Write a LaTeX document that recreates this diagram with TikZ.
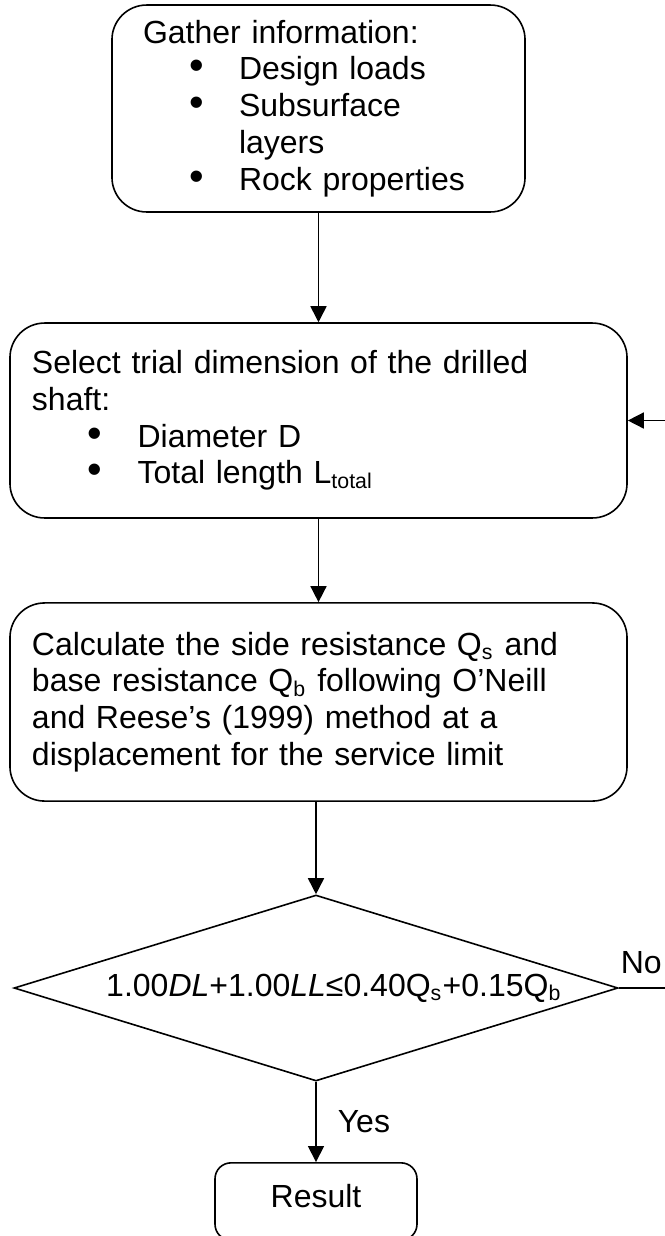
\documentclass[tikz,border=0pt]{standalone}
\usepackage{fontspec}
\setmainfont{Liberation Sans}
\usetikzlibrary{shapes.geometric,arrows.meta}
\setlength{\parindent}{0pt}
% bullet line: #1 = offset of the bullet centre from the text edge
\newcommand{\bitem}[2][20pt]{\par\hangindent=\dimexpr#1+16pt\relax\hangafter=1\noindent\hspace*{#1}\makebox[0pt]{\scalebox{1.3}{\textbullet}}\hspace*{16pt}#2}

\begin{document}
\begin{tikzpicture}[x=0.375pt, y=-0.375pt, line width=0.6pt,
  font=\fontsize{12pt}{13.8pt}\selectfont,
  box/.style={draw, rounded corners=13pt, align=left, inner sep=0pt},
  flow/.style={-{Triangle[length=6pt,width=6pt]}}]
\useasboundingbox (0,0) rectangle (665,1236);

% Gather information
\node[box, minimum width=154.9pt, minimum height=77.6pt, text width=131.6pt] (gather) at (318.5,108.5)
  {Gather information:
   \bitem{Design loads}
   \bitem{Subsurface\newline layers}
   \bitem{Rock properties}};

% Trial dimension
\node[box, minimum width=231.4pt, minimum height=73.1pt, text width=214.9pt] (select) at (318.5,420.5)
  {Select trial dimension of the drilled\\ shaft:
   \bitem[23.6pt]{Diameter D}
   \bitem[23.6pt]{Total length L\textsubscript{total}}};

% Resistances
\node[box, minimum width=231.4pt, minimum height=74.3pt, text width=214.9pt] (calc) at (318.5,702)
  {Calculate the side resistance Q\textsubscript{s} and\\
   base resistance Q\textsubscript{b} following O’Neill\\
   and Reese’s (1999) method at a\\
   displacement for the service limit};

% Check
\node[draw, diamond, aspect=3.25, minimum width=226.5pt, minimum height=69.75pt, inner sep=0pt] (check) at (316,988)
  {\hspace*{13.5pt}1.00\textit{DL}+1.00\textit{LL}≤0.40Q\textsubscript{s}+0.15Q\textsubscript{b}};

% Result
\node[draw, rounded corners=6pt, minimum width=75.75pt, minimum height=29pt, inner sep=0pt, text depth=4pt] (result) at (316,1201.5) {Result};

% connectors
\draw[flow] (gather) -- (select);
\draw[flow] (select) -- (calc);
\draw[flow] (check.north |- calc.south) -- (check.north);
\draw[flow] (check.south) -- (result.north);
\node[anchor=base west, inner sep=0pt] (yes) at (337,1132) {Yes};

% back to the trial dimension
\coordinate (noend) at (665,988);
\coordinate (loopin) at (665,420.5);
\draw (check.east) -- (noend);
\node[anchor=base west, inner sep=0pt] (no) at (620,973) {No};
\draw[flow] (loopin) -- (select.east);
\end{tikzpicture}
\end{document}
